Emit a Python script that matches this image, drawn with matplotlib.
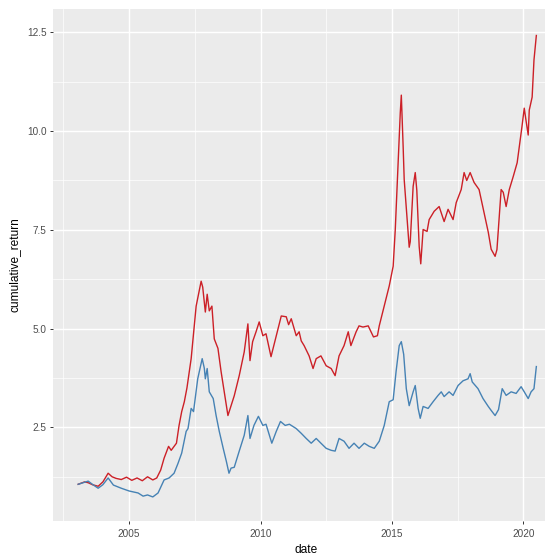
import matplotlib
matplotlib.use("Agg")
import matplotlib.pyplot as plt
from matplotlib.ticker import FixedLocator, FormatStrFormatter

# cumulative return series (decimal years)
red_date = [2003.06, 2003.3, 2003.44, 2003.6, 2003.82, 2004.0, 2004.2, 2004.35, 2004.5, 2004.7,
            2004.9, 2005.1, 2005.3, 2005.5, 2005.7, 2005.9, 2006.05, 2006.2, 2006.33, 2006.5,
            2006.6, 2006.8, 2006.9, 2007.0, 2007.1, 2007.2, 2007.36, 2007.55, 2007.74, 2007.8,
            2007.9, 2007.97, 2008.05, 2008.15, 2008.24, 2008.38, 2008.5, 2008.62, 2008.76, 2008.88,
            2009.0, 2009.19, 2009.38, 2009.52, 2009.6, 2009.7, 2009.83, 2009.95, 2010.09, 2010.21,
            2010.4, 2010.6, 2010.79, 2010.98, 2011.07, 2011.17, 2011.36, 2011.47, 2011.55, 2011.66,
            2011.85, 2012.0, 2012.12, 2012.3, 2012.5, 2012.69, 2012.84, 2012.99, 2013.18, 2013.34,
            2013.44, 2013.64, 2013.75, 2013.9, 2014.1, 2014.3, 2014.45, 2014.52, 2014.71, 2014.9,
            2015.05, 2015.13, 2015.24, 2015.32, 2015.36, 2015.43, 2015.47, 2015.58, 2015.66, 2015.7,
            2015.81, 2015.89, 2015.95, 2016.04, 2016.1, 2016.19, 2016.34, 2016.42, 2016.61, 2016.8,
            2016.99, 2017.14, 2017.33, 2017.45, 2017.64, 2017.75, 2017.85, 2017.98, 2018.13, 2018.32,
            2018.51, 2018.67, 2018.78, 2018.93, 2019.0, 2019.16, 2019.24, 2019.35, 2019.47, 2019.62,
            2019.77, 2019.85, 2019.95, 2020.04, 2020.1, 2020.19, 2020.23, 2020.34, 2020.41, 2020.5]
red_value = [1.06, 1.12, 1.1, 1.05, 1.01, 1.12, 1.34, 1.25, 1.21, 1.18,
             1.24, 1.16, 1.22, 1.15, 1.25, 1.17, 1.22, 1.42, 1.72, 2.02,
             1.92, 2.1, 2.55, 2.9, 3.15, 3.5, 4.24, 5.57, 6.2, 6.05,
             5.42, 5.87, 5.45, 5.57, 4.74, 4.5, 3.91, 3.4, 2.8, 3.05,
             3.3, 3.81, 4.41, 5.12, 4.19, 4.67, 4.92, 5.17, 4.82, 4.87,
             4.29, 4.82, 5.32, 5.3, 5.1, 5.25, 4.82, 4.92, 4.69, 4.57,
             4.31, 3.99, 4.24, 4.31, 4.06, 3.99, 3.81, 4.31, 4.57, 4.92,
             4.57, 4.92, 5.07, 5.04, 5.07, 4.79, 4.82, 5.07, 5.57, 6.08,
             6.58, 7.51, 9.2, 10.46, 10.91, 9.6, 8.77, 7.76, 7.06, 7.2,
             8.6, 8.95, 8.5, 7.08, 6.64, 7.51, 7.46, 7.76, 7.97, 8.09,
             7.71, 8.02, 7.76, 8.19, 8.52, 8.95, 8.75, 8.95, 8.7, 8.52,
             7.94, 7.44, 7.01, 6.83, 7.0, 8.52, 8.45, 8.09, 8.52, 8.85,
             9.2, 9.6, 10.1, 10.58, 10.3, 9.9, 10.53, 10.86, 11.8, 12.42]

blue_date = [2003.06, 2003.25, 2003.44, 2003.62, 2003.82, 2004.0, 2004.2, 2004.4, 2004.7, 2005.0,
             2005.34, 2005.53, 2005.7, 2005.9, 2006.1, 2006.33, 2006.52, 2006.71, 2006.86, 2007.0,
             2007.17, 2007.24, 2007.36, 2007.45, 2007.61, 2007.78, 2007.86, 2007.9, 2007.97, 2008.05,
             2008.2, 2008.31, 2008.43, 2008.58, 2008.7, 2008.8, 2008.88, 2009.0, 2009.19, 2009.38,
             2009.52, 2009.6, 2009.75, 2009.92, 2010.09, 2010.21, 2010.43, 2010.6, 2010.76, 2010.94,
             2011.1, 2011.36, 2011.55, 2011.74, 2011.93, 2012.12, 2012.3, 2012.5, 2012.69, 2012.84,
             2012.99, 2013.18, 2013.37, 2013.56, 2013.75, 2013.95, 2014.14, 2014.33, 2014.52, 2014.71,
             2014.9, 2015.05, 2015.16, 2015.28, 2015.36, 2015.45, 2015.55, 2015.66, 2015.81, 2015.89,
             2016.0, 2016.08, 2016.19, 2016.38, 2016.57, 2016.76, 2016.88, 2016.99, 2017.18, 2017.33,
             2017.52, 2017.71, 2017.9, 2017.98, 2018.06, 2018.28, 2018.47, 2018.67, 2018.78, 2018.93,
             2019.06, 2019.2, 2019.35, 2019.54, 2019.73, 2019.92, 2020.04, 2020.19, 2020.3, 2020.41,
             2020.5]
blue_value = [1.06, 1.1, 1.14, 1.05, 0.96, 1.05, 1.22, 1.04, 0.96, 0.89,
              0.84, 0.76, 0.79, 0.74, 0.84, 1.17, 1.22, 1.34, 1.59, 1.85,
              2.4, 2.47, 2.98, 2.9, 3.73, 4.24, 4.0, 3.73, 3.99, 3.4,
              3.23, 2.8, 2.4, 1.97, 1.64, 1.34, 1.47, 1.49, 1.9, 2.3,
              2.8, 2.22, 2.55, 2.78, 2.55, 2.58, 2.1, 2.4, 2.65, 2.55,
              2.58, 2.47, 2.35, 2.22, 2.1, 2.22, 2.1, 1.97, 1.92, 1.9,
              2.22, 2.15, 1.97, 2.1, 1.97, 2.1, 2.02, 1.97, 2.15, 2.55,
              3.15, 3.2, 3.91, 4.57, 4.67, 4.35, 3.48, 3.05, 3.4, 3.56,
              2.98, 2.73, 3.03, 2.98, 3.15, 3.31, 3.4, 3.28, 3.4, 3.31,
              3.56, 3.68, 3.73, 3.86, 3.65, 3.48, 3.23, 3.03, 2.93, 2.8,
              2.95, 3.48, 3.31, 3.4, 3.36, 3.53, 3.4, 3.23, 3.4, 3.48,
              4.04]

x_major = [2005, 2010, 2015, 2020]
x_minor = [2002.5, 2007.5, 2012.5, 2017.5]
y_major = [2.5, 5.0, 7.5, 10.0, 12.5]
y_minor = [1.25, 3.75, 6.25, 8.75, 11.25]

plt.rcParams['font.family'] = ['Liberation Sans', 'DejaVu Sans']

fig = plt.figure(figsize=(5.45, 5.56), dpi=100)
ax = fig.add_axes([0.0972, 0.0629, 0.9303, 0.9209])
ax.set_facecolor('#EBEBEB')
for s in ax.spines.values():
    s.set_visible(False)

ax.plot(red_date, red_value, color='#CC2027', linewidth=1.0)
ax.plot(blue_date, blue_value, color='#4682B4', linewidth=1.0)

ax.set_xlim(2002.1, 2021.4)
ax.set_ylim(0.13, 13.09)
ax.xaxis.set_major_locator(FixedLocator(x_major))
ax.xaxis.set_minor_locator(FixedLocator(x_minor))
ax.yaxis.set_major_locator(FixedLocator(y_major))
ax.yaxis.set_minor_locator(FixedLocator(y_minor))
ax.xaxis.set_major_formatter(FormatStrFormatter('%d'))
ax.yaxis.set_major_formatter(FormatStrFormatter('%.1f'))

ax.set_axisbelow(True)
ax.grid(True, which='major', color='white', linewidth=1.05)
ax.grid(True, which='minor', color='white', linewidth=0.5)
ax.tick_params(which='major', length=2.5, width=0.7, color='#333333',
               labelsize=7.2, labelcolor='#4D4D4D', pad=2)
ax.tick_params(axis='x', which='major', pad=3.5)
ax.tick_params(which='minor', length=0)

ax.set_xlabel('date', fontsize=8.6, labelpad=3)
ax.set_ylabel('cumulative_return', fontsize=8.6, labelpad=5)

fig.savefig('out.png', dpi=100)
